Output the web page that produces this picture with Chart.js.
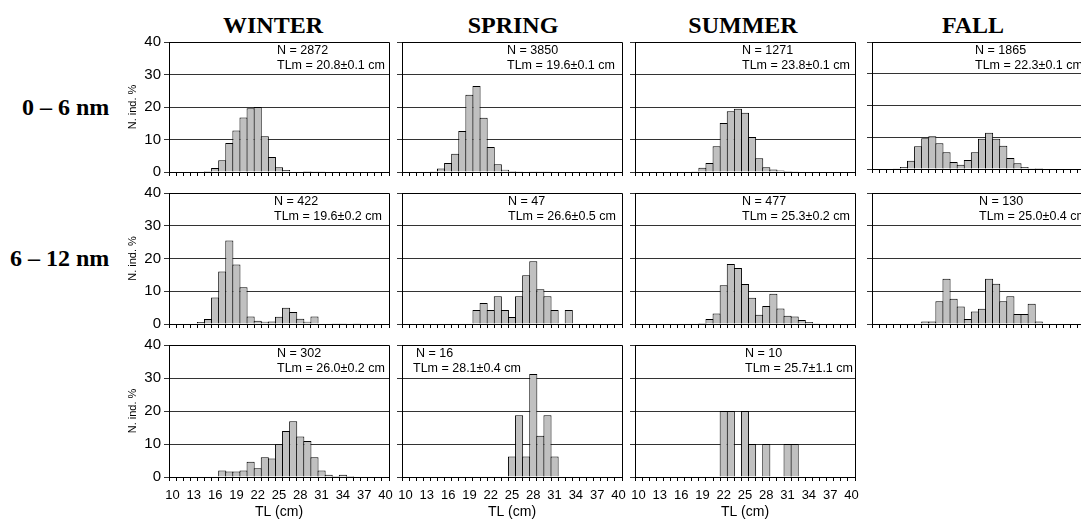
<!DOCTYPE html>
<html>
<head>
<meta charset="utf-8">
<title>TL frequency by season and depth</title>
<script src="https://cdn.jsdelivr.net/npm/chart.js@4.4.1/dist/chart.umd.min.js"></script>
<style>
  html, body { margin: 0; padding: 0; background: #fff; }
  body { position: relative; width: 1081px; height: 520px; overflow: hidden; }
  canvas { position: absolute; }
  .season, .depth { position: absolute; font: bold 24px "Liberation Serif", "Times New Roman", serif; line-height: 24px; white-space: nowrap; color: #000; }
  .season { width: 200px; text-align: center; }
</style>
</head>
<body>
<script>
// Length classes, TL in cm
const tlLabels = ['10', '11', '12', '13', '14', '15', '16', '17', '18', '19', '20',
                  '21', '22', '23', '24', '25', '26', '27', '28', '29', '30',
                  '31', '32', '33', '34', '35', '36', '37', '38', '39', '40'];

const seasons = ['WINTER', 'SPRING', 'SUMMER', 'FALL'];
const depths = ['0 – 6 nm', '6 – 12 nm'];

// % of individuals per length class (10 ... 40 cm)
// 0 - 6 nm
const winterNear = [0, 0, 0, 0, 0, 0.3, 1.2, 3.6, 8.9, 12.8, 16.8, 19.6, 20.0, 11.0, 4.6, 1.5,
                    0.6, 0, 0, 0.3, 0.2, 0.2, 0, 0, 0, 0, 0, 0, 0, 0, 0];
const springNear = [0, 0, 0, 0, 0.2, 1.1, 2.8, 5.6, 12.6, 23.8, 26.5, 16.7, 7.7, 2.4, 0.7, 0.3,
                    0.1, 0, 0.2, 0.2, 0.2, 0, 0, 0, 0, 0, 0, 0, 0, 0, 0];
const summerNear = [0, 0, 0, 0, 0, 0, 0, 0, 0.2, 1.3, 2.8, 7.9, 15.1, 18.7, 19.5, 18.2,
                    10.8, 4.2, 1.5, 0.8, 0.5, 0.3, 0.2, 0, 0, 0, 0, 0, 0, 0, 0];
const fallNear = [0, 0, 0, 0.2, 0.6, 2.6, 7.2, 9.7, 10.3, 8.1, 5.3, 2.2, 1.3, 2.8, 5.3, 9.5,
                  11.4, 9.5, 7.3, 3.5, 1.8, 0.6, 0.2, 0.3, 0, 0, 0, 0, 0, 0, 0];
// 6 - 12 nm
const winterMid = [0, 0, 0, 0, 0.6, 1.5, 8.1, 16.0, 25.5, 18.2, 11.2, 2.3, 1.0, 0.7, 0.8, 2.2,
                   5.0, 3.7, 1.6, 0.7, 2.3, 0, 0, 0.2, 0.2, 0, 0.2, 0, 0, 0, 0];
const springMid = [0, 0, 0, 0, 0, 0, 0, 0, 0, 0, 4.26, 6.38, 4.26, 8.51, 4.26, 2.13,
                   8.51, 14.89, 19.15, 10.64, 8.51, 4.26, 0, 4.26, 0, 0, 0, 0, 0, 0, 0];
const summerMid = [0, 0, 0, 0, 0, 0, 0, 0, 0, 0.3, 1.5, 3.2, 11.8, 18.3, 17.1, 12.2,
                   8.0, 2.8, 5.5, 9.2, 4.7, 2.5, 2.3, 1.2, 0.6, 0.2, 0, 0, 0, 0, 0];
const fallMid = [0, 0, 0, 0, 0, 0, 0, 0.77, 0.77, 6.92, 13.85, 7.69, 5.38, 1.54, 3.85, 4.62,
                 13.85, 12.31, 6.92, 8.46, 3.08, 3.08, 6.15, 0.77, 0, 0, 0, 0, 0, 0, 0];
// 12 - 18 nm
const winterFar = [0, 0, 0, 0, 0, 0, 0, 1.99, 1.66, 1.66, 1.99, 4.64, 2.65, 5.96, 5.63, 9.93,
                   13.91, 16.89, 12.25, 10.93, 5.96, 1.99, 0.66, 0.33, 0.66, 0.33, 0, 0, 0, 0, 0];
const springFar = [0, 0, 0, 0, 0, 0, 0, 0, 0, 0, 0, 0, 0, 0, 0, 6.25,
                   18.75, 6.25, 31.25, 12.5, 18.75, 6.25, 0, 0, 0, 0, 0, 0, 0, 0, 0];
const summerFar = [0, 0, 0, 0, 0, 0, 0, 0, 0, 0, 0, 0, 20, 20, 0, 20,
                   10, 0, 10, 0, 0, 10, 10, 0, 0, 0, 0, 0, 0, 0, 0];

const sampleSizes = ['2872', '3850', '1271', '1865', '422', '47', '477', '130', '302', '16', '10'];
const meanLengths = ['20.8±0.1', '19.6±0.1', '23.8±0.1', '22.3±0.1', '19.6±0.2', '26.6±0.5',
                     '25.3±0.2', '25.0±0.4', '26.0±0.2', '28.1±0.4', '25.7±1.1'];

// layout of the grid (px)
const colLeft = [169, 402, 635, 872];
const rowTop = [42, 193, 345];
const rowHeight = [130, 131, 132];
const plotWidth = 220;

const panels = [
    { row: 0, col: 0, values: winterNear, dx: [108, 108] },
    { row: 0, col: 1, values: springNear, dx: [105, 105] },
    { row: 0, col: 2, values: summerNear, dx: [107, 107] },
    { row: 0, col: 3, values: fallNear, dx: [103, 103], height: 127 },
    { row: 1, col: 0, values: winterMid, dx: [105, 105] },
    { row: 1, col: 1, values: springMid, dx: [106, 106] },
    { row: 1, col: 2, values: summerMid, dx: [107, 107] },
    { row: 1, col: 3, values: fallMid, dx: [107, 107] },
    { row: 2, col: 0, values: winterFar, dx: [108, 108] },
    { row: 2, col: 1, values: springFar, dx: [14, 11] },
    { row: 2, col: 2, values: summerFar, dx: [110, 110] }
];

const SANS = '"Liberation Sans", Arial, sans-serif';

// frame on top/right + the N / TLm notes
const panelFrame = {
    id: 'panelFrame',
    afterDraw(chart, args, opts) {
        const { ctx, chartArea: a } = chart;
        const r = Math.round(a.right - 0.5) + 0.5;
        const t = Math.round(a.top - 0.5) + 0.5;
        ctx.save();
        ctx.strokeStyle = '#000';
        ctx.lineWidth = 1;
        ctx.beginPath();
        ctx.moveTo(a.left, t);
        ctx.lineTo(r, t);
        ctx.lineTo(r, a.bottom);
        ctx.stroke();
        ctx.fillStyle = '#000';
        ctx.font = '12.5px ' + SANS;
        ctx.textAlign = 'left';
        ctx.textBaseline = 'middle';
        opts.lines.forEach(ln => ctx.fillText(ln.text, a.left + ln.dx, a.top + ln.dy));
        ctx.restore();
    }
};

function makePanel(p, idx) {
    const firstCol = p.col === 0;
    const lastRow = p.row === 2;
    const padL = firstCol ? 50 : 8;
    const padT = 6, padR = 4;
    const padB = lastRow ? 44 : 6;
    const h = p.height || rowHeight[p.row];

    const canvas = document.createElement('canvas');
    const w = padL + plotWidth + padR;
    const ht = padT + h + padB;
    canvas.width = w;
    canvas.height = ht;
    canvas.style.width = w + 'px';
    canvas.style.height = ht + 'px';
    canvas.style.left = (colLeft[p.col] - padL) + 'px';
    canvas.style.top = (rowTop[p.row] - padT) + 'px';
    document.body.appendChild(canvas);

    const catWidth = plotWidth / tlLabels.length;

    new Chart(canvas, {
        type: 'bar',
        data: {
            labels: tlLabels,
            datasets: [{
                data: p.values,
                backgroundColor: '#c0c0c0',
                borderColor: '#000',
                borderWidth: 1,
                categoryPercentage: 1,
                barPercentage: (catWidth + 1) / catWidth
            }]
        },
        options: {
            responsive: false,
            animation: false,
            devicePixelRatio: 1,
            layout: { autoPadding: false, padding: { left: 0, top: padT, right: padR, bottom: 0 } },
            plugins: {
                legend: { display: false },
                tooltip: { enabled: false },
                panelFrame: {
                    lines: [
                        { text: 'N = ' + sampleSizes[idx], dx: p.dx[0], dy: 8.5 },
                        { text: 'TLm = ' + meanLengths[idx] + ' cm', dx: p.dx[1], dy: 23.5 }
                    ]
                }
            },
            scales: {
                x: {
                    grid: { drawOnChartArea: false, drawTicks: true, tickLength: 4, color: '#000' },
                    border: { color: '#000' },
                    ticks: {
                        display: lastRow,
                        autoSkip: false,
                        maxRotation: 0,
                        minRotation: 0,
                        padding: 7,
                        color: '#000',
                        font: { family: SANS, size: 13 },
                        callback: (v, i) => (i % 3 === 0 ? tlLabels[i] : '')
                    },
                    title: {
                        display: lastRow,
                        text: 'TL (cm)',
                        color: '#000',
                        font: { family: SANS, size: 14 },
                        padding: { top: 0, bottom: 0 }
                    },
                    afterFit: axis => {
                        axis.height = padB;
                        axis.paddingLeft = 0;
                        axis.paddingRight = 0;
                    }
                },
                y: {
                    min: 0,
                    max: 40,
                    grid: { color: '#333', lineWidth: 1, tickLength: 5 },
                    border: { color: '#000' },
                    ticks: {
                        display: firstCol,
                        stepSize: 10,
                        padding: 3,
                        color: '#000',
                        font: { family: SANS, size: 15 }
                    },
                    title: {
                        display: firstCol,
                        text: 'N. ind. %',
                        color: '#000',
                        font: { family: SANS, size: 11 },
                        padding: { top: 7, bottom: 0 }
                    },
                    afterFit: axis => {
                        axis.width = padL;
                        axis.paddingTop = 0;
                        axis.paddingBottom = 0;
                    }
                }
            }
        },
        plugins: [panelFrame]
    });
}

// column titles and depth labels
const seasonCenter = [273, 513, 743, 973];
seasons.forEach((s, i) => {
    const d = document.createElement('div');
    d.className = 'season';
    d.textContent = s;
    d.style.left = (seasonCenter[i] - 100) + 'px';
    d.style.top = '13px';
    document.body.appendChild(d);
});
const depthPos = [[22, 95], [10, 246]];
depths.forEach((s, i) => {
    const d = document.createElement('div');
    d.className = 'depth';
    d.textContent = s;
    d.style.left = depthPos[i][0] + 'px';
    d.style.top = depthPos[i][1] + 'px';
    document.body.appendChild(d);
});

panels.forEach((p, i) => makePanel(p, i));
</script>
</body>
</html>
